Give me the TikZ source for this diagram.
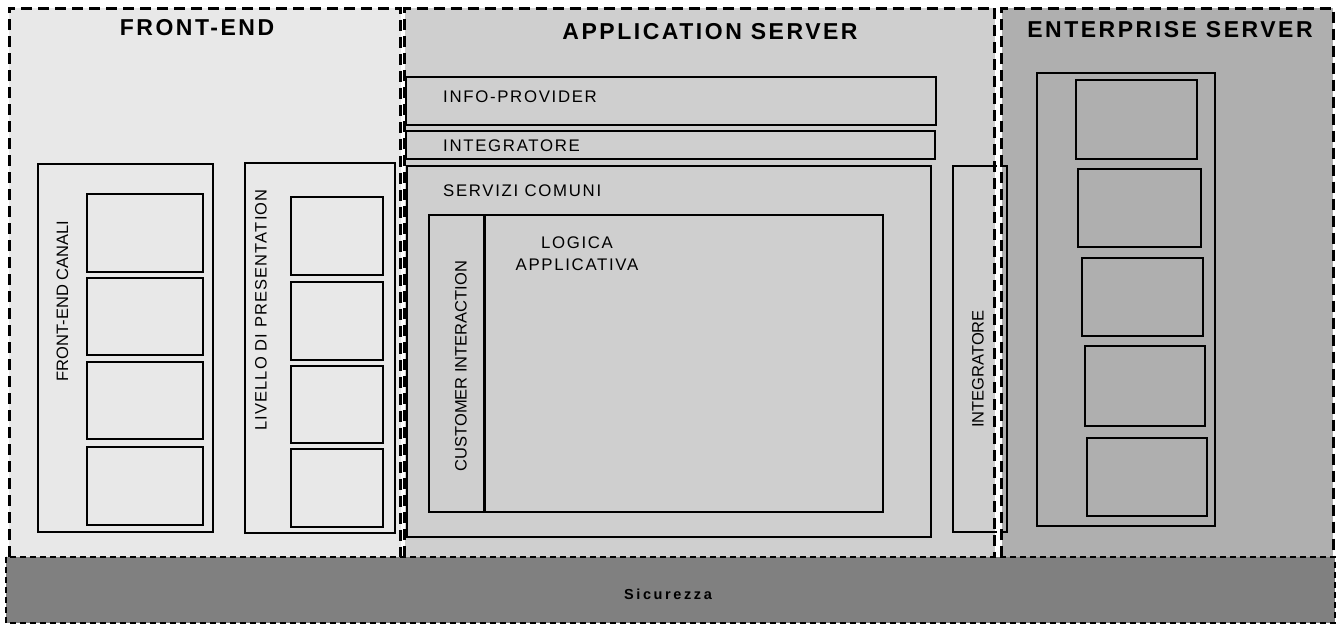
\documentclass[tikz,border=0pt]{standalone}
\usepackage{fontspec}
\setmainfont{Liberation Sans}
\definecolor{fefill}{HTML}{E8E8E8}
\definecolor{asfill}{HTML}{CFCFCF}
\definecolor{esfill}{HTML}{AFAFAF}
\definecolor{secfill}{HTML}{808080}
\tikzset{
  panelborder/.style={line width=3pt, dash pattern=on 11pt off 6pt},
  barborder/.style={line width=1.6pt, dash pattern=on 6pt off 4pt},
  frame/.style={line width=2pt},
  title/.style={font=\fontsize{23}{28}\selectfont\bfseries\addfontfeature{LetterSpace=11}, anchor=base, inner sep=0pt},
  hlabel/.style={font=\fontsize{16.8}{22}\selectfont\addfontfeature{LetterSpace=10}, inner sep=0pt},
  vlabel/.style={font=\fontsize{16.5}{20}\selectfont, rotate=90, inner sep=0pt},
}
\begin{document}
\begin{tikzpicture}[x=1pt, y=-1pt]
\useasboundingbox (0,0) rectangle (1342,625);
\fill[white] (0,0) rectangle (1342,625);

% tier backgrounds
\fill[fefill] (9,8) rectangle (400.5,557);
\fill[asfill] (404.5,8) rectangle (994.5,557);
\fill[esfill] (1001.5,8) rectangle (1333,557);

% front-end: channels column
\draw[frame] (37.5,164) rectangle (213,532);
\foreach \a/\b in {194/272, 278/355, 362/439, 447/525}
  \draw[frame] (87,\a) rectangle (203,\b);
% front-end: presentation column
\draw[frame] (244.5,163) rectangle (394.5,533);
\foreach \a/\b in {197/275, 282/360, 366/443, 449/527}
  \draw[frame] (291,\a) rectangle (383,\b);

% application server blocks
\draw[frame] (406,77) rectangle (936,125);
\draw[frame] (406,131) rectangle (935,159);
\draw[frame] (407,166) rectangle (931,537);
\draw[frame] (429,215) rectangle (883,512);
\draw[line width=3pt] (484,215) -- (484,512);
\draw[frame] (953,166) rectangle (1007,532);

% enterprise server stack
\draw[frame] (1037,73) rectangle (1215,526);
\foreach \xa/\ya/\xb/\yb in {1076/80/1197/159, 1078/169/1201/247, 1082/258/1203/336, 1085/346/1205/426, 1087/438/1207/516}
  \draw[frame] (\xa,\ya) rectangle (\xb,\yb);

% white gap between application and enterprise tiers
\fill[white] (996.5,8) rectangle (999.5,557);

% dashed tier borders (open at the bottom)
\draw[panelborder] (9,557) -- (9,8) -- (400.5,8) -- (400.5,557);
\draw[panelborder] (404.5,557) -- (404.5,8) -- (994.5,8) -- (994.5,557);
\draw[panelborder] (1001.5,557) -- (1001.5,8) -- (1333,8) -- (1333,557);

% security bar
\fill[secfill] (6,557) rectangle (1335,623);
\draw[barborder] (6,557) rectangle (1335,623);

% titles
\node[title] (tfe) at (197,35) {FRONT-END};
\node[title] (tas) at (710,39) {APPLICATION SERVER};
\node[title] (tes) at (1170,37) {ENTERPRISE SERVER};

% horizontal labels
\node[hlabel, anchor=base west] (linfo) at (443,102) {INFO-PROVIDER};
\node[hlabel, anchor=base west] (lint) at (443,151) {INTEGRATORE};
\node[hlabel, anchor=base west] (lserv) at (443,196) {SERVIZI COMUNI};
\node[hlabel, align=center, anchor=base] (llog) at (577,270) {LOGICA\\APPLICATIVA};

% vertical labels
\node[vlabel] (lcan) at (62.5,301) {FRONT-END CANALI};
\node[vlabel, font=\fontsize{16.5}{20}\selectfont\addfontfeature{LetterSpace=7}] (lpres) at (261,310) {LIVELLO DI PRESENTATION};
\node[vlabel] (lcust) at (461,366) {CUSTOMER INTERACTION};
\node[vlabel] (lintv) at (978,369) {INTEGRATORE};

% security label
\node[font=\fontsize{14.5}{18}\selectfont\bfseries\addfontfeature{LetterSpace=18}, anchor=base, inner sep=0pt] (lsec) at (668,599) {Sicurezza};
\end{tikzpicture}
\end{document}
